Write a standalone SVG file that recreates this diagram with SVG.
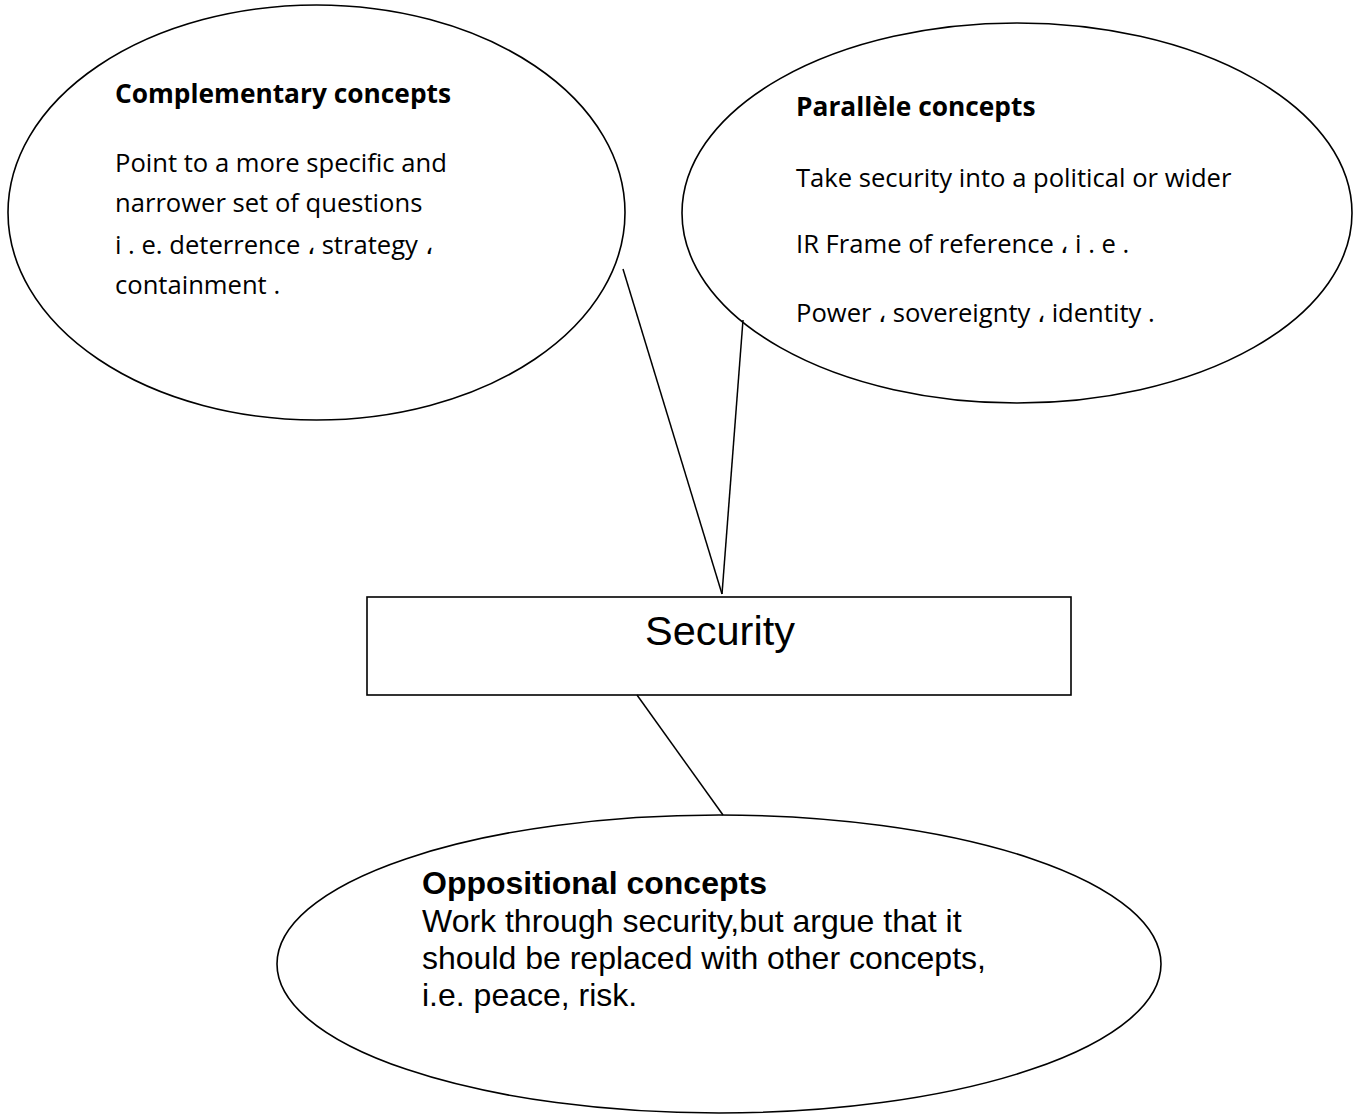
<svg xmlns="http://www.w3.org/2000/svg" width="1365" height="1115" viewBox="0 0 1365 1115">
<style>
.shape{fill:#fff;stroke:#000;stroke-width:1.6}
.conn{stroke:#000;stroke-width:1.5;fill:none}
.cal{font-family:"Open Sans","Noto Sans",sans-serif;font-size:25.6px;fill:#000}
.calb{font-family:"Open Sans","Noto Sans",sans-serif;font-size:26.3px;font-weight:bold;fill:#000}
.ar{font-family:"Liberation Sans",Arial,sans-serif;font-size:32px;fill:#000}
.arb{font-family:"Liberation Sans",Arial,sans-serif;font-size:32px;font-weight:bold;fill:#000}
.sec{font-family:"Liberation Sans",Arial,sans-serif;font-size:41.5px;fill:#000}
</style>
<rect width="1365" height="1115" fill="#fff"/>
<g id="complementary">
<ellipse class="shape" cx="316.5" cy="212.5" rx="308.5" ry="207.5"/>
<text class="calb" x="115" y="103">Complementary concepts</text>
<text class="cal" x="115" y="172">Point to a more specific and</text>
<text class="cal" x="115" y="212">narrower set of questions</text>
<text class="cal" x="115" y="254">i . e. deterrence ، strategy ،</text>
<text class="cal" x="115" y="294">containment .</text>
</g>
<g id="parallele">
<ellipse class="shape" cx="1017" cy="213" rx="335" ry="190"/>
<text class="calb" x="796" y="116">Parallèle concepts</text>
<text class="cal" x="796" y="187">Take security into a political or wider</text>
<text class="cal" x="796" y="253">IR Frame of reference  ، i . e .</text>
<text class="cal" x="796" y="322">Power ، sovereignty ، identity .</text>
</g>
<g id="oppositional">
<ellipse class="shape" cx="719" cy="964" rx="442" ry="149"/>
<text class="arb" x="422" y="894">Oppositional concepts</text>
<text class="ar" x="422" y="932">Work through security,but argue that it</text>
<text class="ar" x="422" y="969">should be replaced with other concepts,</text>
<text class="ar" x="422" y="1006">i.e. peace, risk.</text>
</g>
<g id="security">
<rect class="shape" x="367" y="597" width="704" height="98"/>
<text class="sec" x="720" y="645" text-anchor="middle">Security</text>
</g>
<g id="connectors">
<line class="conn" x1="623" y1="269" x2="722" y2="594"/>
<line class="conn" x1="743" y1="320" x2="722" y2="594"/>
<line class="conn" x1="637" y1="695" x2="723" y2="815"/>
</g>
</svg>
